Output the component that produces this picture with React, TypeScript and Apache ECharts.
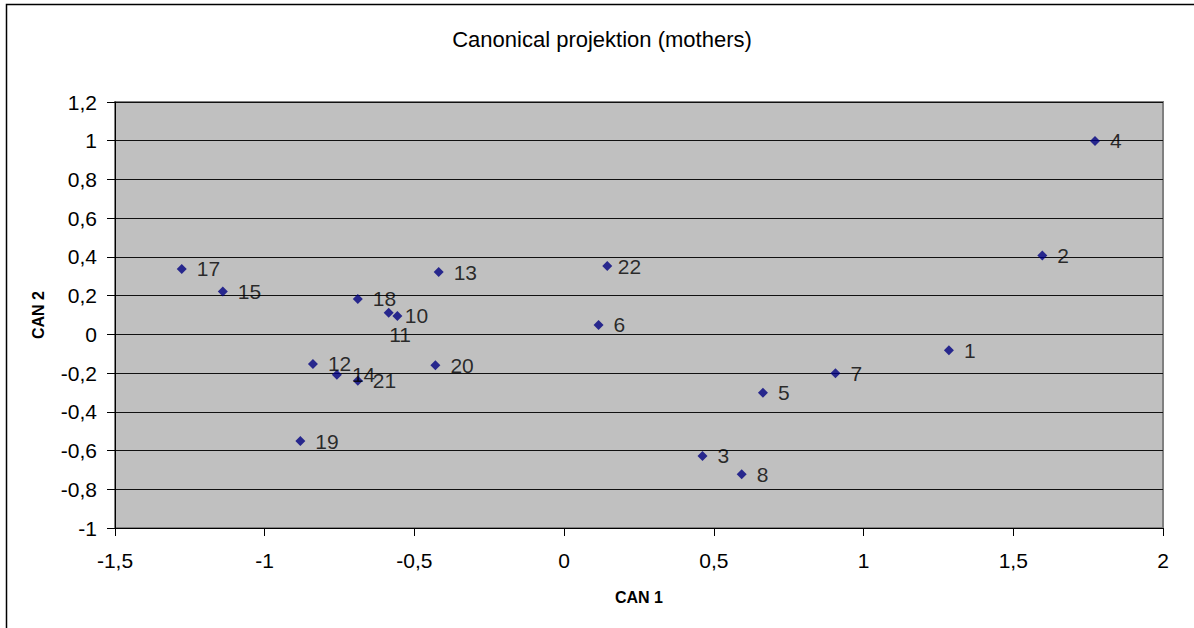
import React, { useEffect, useRef } from "react";
import * as echarts from "echarts";

const pointIds = ["1", "2", "3", "4", "5", "6", "7", "8", "10", "11", "12", "13", "14", "15", "17", "18", "19", "20", "21", "22"];
const can1 = [1.285, 1.597, 0.462, 1.773, 0.664, 0.115, 0.906, 0.593, -0.557, -0.586, -0.839, -0.419, -0.759, -1.14, -1.277, -0.689, -0.881, -0.43, -0.689, 0.144];
const can2 = [-0.082, 0.407, -0.628, 0.999, -0.301, 0.049, -0.201, -0.723, 0.095, 0.112, -0.153, 0.322, -0.208, 0.221, 0.338, 0.183, -0.551, -0.16, -0.239, 0.353];

const titleText = "Canonical projektion (mothers)";
const xAxisName = "CAN 1";
const yAxisName = "CAN 2";

const FONT = "'Liberation Sans', Arial, Helvetica, sans-serif";

// label placement tweaks (layout only)
const labelTweaks: Record<string, any> = {
  "10": { distance: 2.5 },
  "22": { distance: 5.5 },
  "11": { offset: [-14.5, 22] },
};

const fmt = (v: number) => {
  let r = Math.round(v * 10) / 10;
  if (Object.is(r, -0)) r = 0;
  return String(r).replace(".", ",");
};

export default function App() {
  const ref = useRef<HTMLDivElement>(null);
  useEffect(() => {
    if (!ref.current) return;
    const chart = echarts.init(ref.current, undefined, { renderer: "svg" });
    const data = pointIds.map((id, i) => {
      const item: any = { name: id, value: [can1[i], can2[i]] };
      if (labelTweaks[id]) item.label = labelTweaks[id];
      return item;
    });
    chart.setOption({
      animation: false,
      backgroundColor: "#ffffff",
      title: {
        text: titleText,
        left: 602,
        top: 28,
        padding: 0,
        textAlign: "center",
        textStyle: { fontFamily: FONT, fontSize: 22, fontWeight: "normal", color: "#000" },
      },
      graphic: [
        {
          type: "rect",
          shape: { x: 6.5, y: 4.5, width: 1300, height: 800 },
          style: { fill: "none", stroke: "#000", lineWidth: 1.5 },
          silent: true,
          z: 100,
        },
      ],
      grid: {
        left: 115,
        right: 31,
        top: 102,
        bottom: 100,
        show: true,
        backgroundColor: "#c0c0c0",
        borderColor: "#808080",
        borderWidth: 2,
      },
      xAxis: {
        type: "value",
        min: -1.5,
        max: 2,
        interval: 0.5,
        name: xAxisName,
        nameLocation: "middle",
        nameGap: 61,
        nameTextStyle: { fontFamily: FONT, fontSize: 16, fontWeight: "bold", color: "#000" },
        axisLine: { show: true, onZero: false, lineStyle: { color: "#000", width: 1 } },
        axisTick: { show: true, inside: false, length: 8, lineStyle: { color: "#000" } },
        axisLabel: { formatter: fmt, fontFamily: FONT, fontSize: 21, color: "#000", margin: 22 },
        splitLine: { show: false },
      },
      yAxis: {
        type: "value",
        min: -1,
        max: 1.2,
        interval: 0.2,
        name: yAxisName,
        nameLocation: "middle",
        nameGap: 69,
        nameRotate: 90,
        nameTextStyle: { fontFamily: FONT, fontSize: 16, fontWeight: "bold", color: "#000" },
        axisLine: { show: true, onZero: false, lineStyle: { color: "#000", width: 1 } },
        axisTick: { show: true, inside: false, length: 8, lineStyle: { color: "#000" } },
        axisLabel: { formatter: fmt, fontFamily: FONT, fontSize: 21, color: "#000", margin: 18 },
        splitLine: { show: true, lineStyle: { color: "#111", width: 1 } },
      },
      series: [
        {
          type: "scatter",
          symbol: "diamond",
          symbolSize: 10,
          itemStyle: { color: "#000080" },
          label: {
            show: true,
            position: "right",
            distance: 10,
            formatter: "{b}",
            fontFamily: FONT,
            fontSize: 21,
            color: "#000",
          },
          data,
        },
      ],
    });
    return () => chart.dispose();
  }, []);
  return (
    <div
      ref={ref}
      style={{ position: "fixed", left: 0, top: 0, width: 1194, height: 628, background: "#fff" }}
    />
  );
}
